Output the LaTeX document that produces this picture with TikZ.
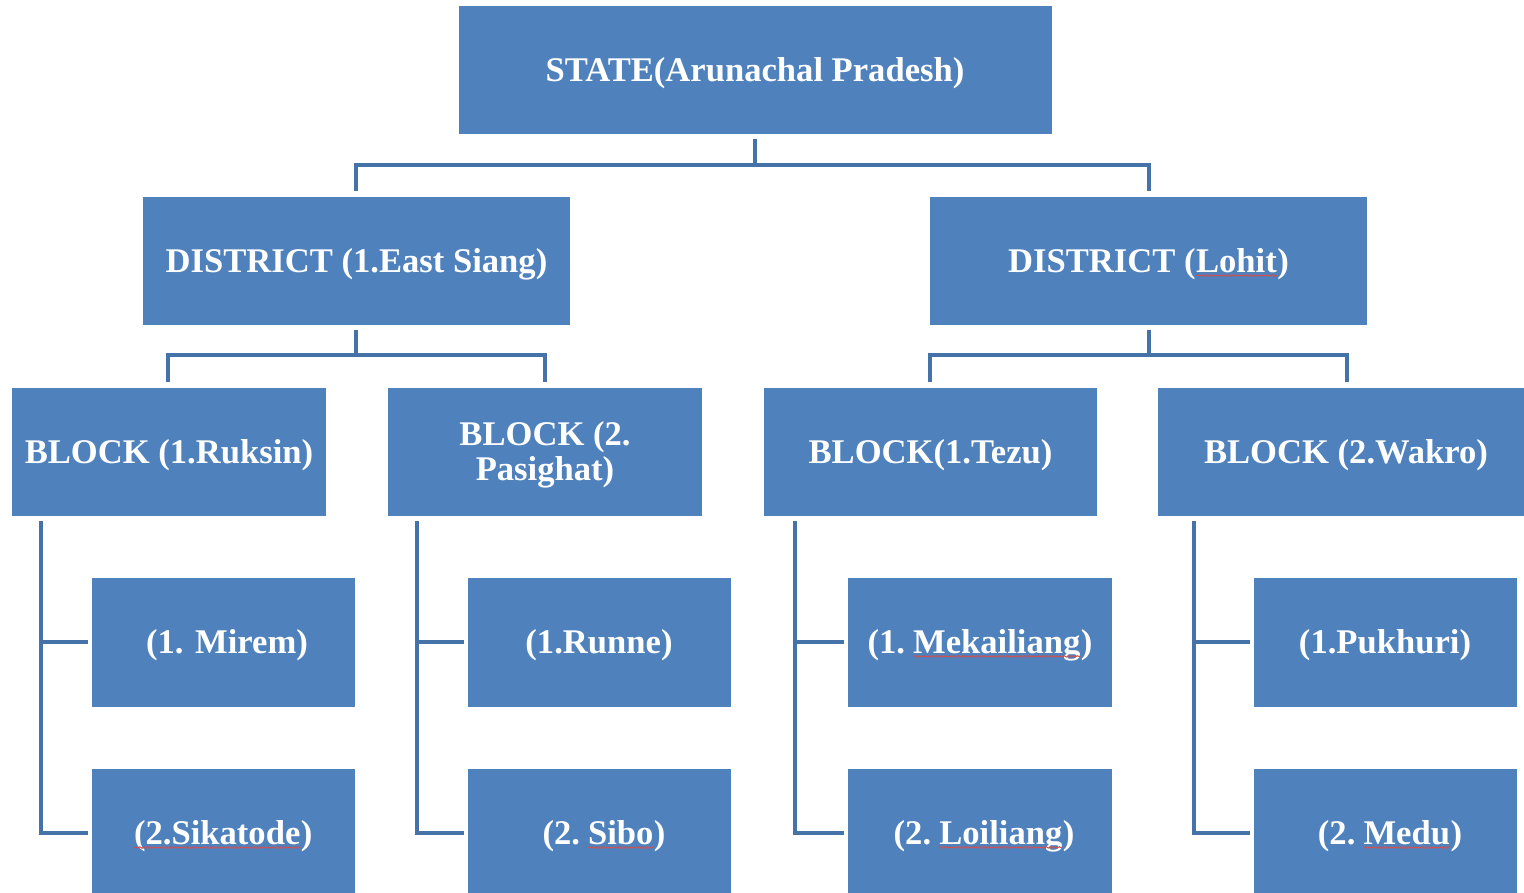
\documentclass[tikz,border=0pt]{standalone}
\usepackage{fontspec}
\setmainfont{Liberation Serif}
\usetikzlibrary{decorations.pathmorphing}
\definecolor{boxblue}{HTML}{4F81BD}
\definecolor{linkblue}{HTML}{4672AA}
\definecolor{squig}{HTML}{D05050}
\newcommand\sqw[1]{\tikz[baseline=(w.base)]{\node[inner sep=0pt,outer sep=0pt,draw=none,fill=none,text=white](w){#1};\draw[squig,line width=0.5pt,fill=none,decorate,decoration={snake,amplitude=0.35pt,segment length=2.2pt}] ([yshift=-1.6pt]w.base west) -- ([yshift=-1.6pt]w.base east);}}
\tikzset{
  box/.style={draw=none,fill=boxblue,text=white,font=\bfseries\fontsize{17.3}{18.5}\selectfont,align=center},
  link/.style={draw=linkblue,line width=2.4pt,line cap=rect,line join=miter}
}
\begin{document}
\begin{tikzpicture}[x=0.5pt,y=-0.5pt]
\useasboundingbox (0,0) rectangle (1524,893);
% boxes
\path[box] (459,6) rectangle (1052,134); \node[box,fill=none] (state) at (755,73) {STATE(Arunachal Pradesh)};
\path[box] (143,197) rectangle (570,325); \node[box,fill=none] (d1) at (356.5,264) {DISTRICT (1.East Siang)};
\path[box] (930,197) rectangle (1367,325); \node[box,fill=none] (d2) at (1148.5,264) {DISTRICT (\sqw{Lohit})};
\path[box] (12,388) rectangle (326,516); \node[box,fill=none] (b1) at (169,455) {BLOCK (1.Ruksin)};
\path[box] (388,388) rectangle (702,516); \node[box,fill=none] (b2) at (545,455) {BLOCK (2.\\[-1pt]Pasighat)};
\path[box] (764,388) rectangle (1097,516); \node[box,fill=none] (b3) at (930.5,455) {BLOCK(1.Tezu)};
\path[box] (1158,388) rectangle (1524,516); \node[box,fill=none] (b4) at (1346,455) {BLOCK (2.Wakro)};
\path[box] (92,578) rectangle (355,707); \node[box,fill=none] (v1) at (227,645) {(1. Mirem)};
\path[box] (92,769) rectangle (355,893); \node[box,fill=none] (v2) at (223,836) {\sqw{(2.Sikatode})};
\path[box] (468,578) rectangle (731,707); \node[box,fill=none] (v3) at (599,645) {(1.Runne)};
\path[box] (468,769) rectangle (731,893); \node[box,fill=none] (v4) at (604,836) {(2.\hspace{0.22em}\sqw{Sibo})};
\path[box] (848,578) rectangle (1112,707); \node[box,fill=none] (v5) at (980,645) {(1.\hspace{0.22em}\sqw{Mekailiang})};
\path[box] (848,769) rectangle (1112,893); \node[box,fill=none] (v6) at (984,836) {(2.\hspace{0.22em}\sqw{Loiliang})};
\path[box] (1254,578) rectangle (1517,707); \node[box,fill=none] (v7) at (1385,645) {(1.Pukhuri)};
\path[box] (1254,769) rectangle (1517,893); \node[box,fill=none] (v8) at (1390,836) {(2.\hspace{0.22em}\sqw{Medu})};
% connectors
\coordinate (s0) at (755,141);
\draw[link] (s0) -- (755,165) -| (356,189);
\draw[link] (755,165) -| (1149,189);
\draw[link] (356,332) -- (356,355) -| (168,380);
\draw[link] (356,355) -| (545,380);
\draw[link] (1149,332) -- (1149,355) -| (930,380);
\draw[link] (1149,355) -| (1347,380);
\foreach \x/\e in {41/86,417/462,795/842,1194/1248}{
  \draw[link] (\x,523) -- (\x,833) -- (\e,833);
  \draw[link] (\x,642) -- (\e,642);
}
\end{tikzpicture}
\end{document}
